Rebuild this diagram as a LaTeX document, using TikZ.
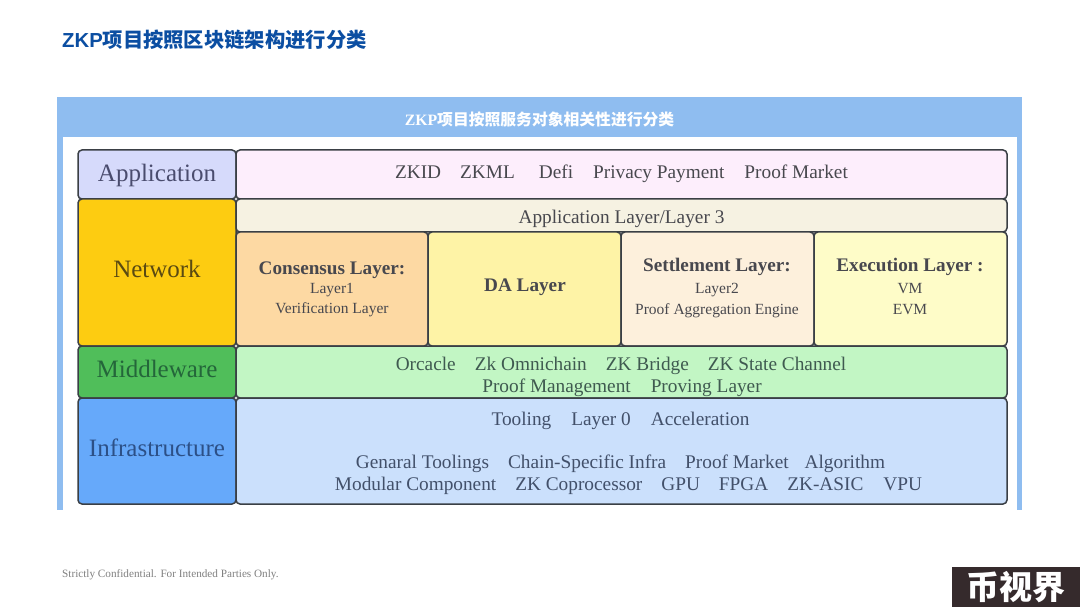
\documentclass[tikz,border=0pt]{standalone}
\usepackage{fontspec}
\setmainfont{Liberation Serif}
\newfontfamily\cjk{Noto Sans CJK SC}
\newfontfamily\arialfont{Liberation Sans}
\definecolor{framecol}{HTML}{8FBDF0}
\definecolor{titlecol}{HTML}{0B4EA2}
\definecolor{edgecol}{HTML}{3A3F45}
\definecolor{txtcol}{HTML}{48484E}
\definecolor{appcol}{HTML}{D6DAFB}
\definecolor{apprcol}{HTML}{FDEEFC}
\definecolor{netcol}{HTML}{FDCC11}
\definecolor{l3col}{HTML}{F6F2E2}
\definecolor{conscol}{HTML}{FDD9A3}
\definecolor{dacol}{HTML}{FEF3A6}
\definecolor{setlcol}{HTML}{FDF0DC}
\definecolor{execol}{HTML}{FEFCC8}
\definecolor{midcol}{HTML}{50BE5A}
\definecolor{midrcol}{HTML}{C2F6C4}
\definecolor{infcol}{HTML}{66A9FA}
\definecolor{infrcol}{HTML}{CBE0FC}
\definecolor{badgecol}{HTML}{352A2C}
\definecolor{apptxt}{HTML}{4A4C6E}
\definecolor{nettxt}{HTML}{5A4A12}
\definecolor{midtxt}{HTML}{24663A}
\definecolor{inftxt}{HTML}{2C5087}
\definecolor{midrtxt}{HTML}{3F5A50}
\definecolor{infrtxt}{HTML}{42506A}
\tikzset{
  cell/.style={draw=edgecol,line width=1.5pt,rounded corners=4pt,inner sep=0pt,outer sep=0pt,anchor=north west},
  sidelabel/.style={font=\fontsize{25}{28}\selectfont,text=txtcol,inner sep=0pt,anchor=base},
  rowlabel/.style={font=\fontsize{19.3}{22}\selectfont,text=txtcol,inner sep=0pt,anchor=base},
  headlabel/.style={font=\fontsize{19.2}{22}\selectfont\bfseries,text=txtcol,inner sep=0pt,anchor=base},
  sublabel/.style={font=\fontsize{15.5}{18}\selectfont,text=txtcol,inner sep=0pt,anchor=base}
}
\begin{document}
\begin{tikzpicture}[x=1pt,y=-1pt]
  \useasboundingbox (0,0) rectangle (1080,607);
  \fill[white] (0,0) rectangle (1080,607);
  % page title
  \node[inner sep=0pt,anchor=base west,text=titlecol,font=\fontsize{20.3}{24}\selectfont\bfseries] (title) at (62,48) {\arialfont ZKP\cjk 项目按照区块链架构进行分类};
  % blue frame
  \fill[framecol] (57,97) rectangle (1022,510);
  \fill[white] (63,137) rectangle (1017,510);
  \node[inner sep=0pt,anchor=base,text=white,font=\fontsize{15.8}{18}\selectfont\bfseries] (header) at (539.5,125.5) {ZKP\cjk 项目按照服务对象相关性进行分类};
  % left column
  \node[cell,fill=appcol,minimum width=158,minimum height=49] (app) at (78,150) {};
  \node[cell,fill=netcol,minimum width=158,minimum height=147] (net) at (78,199) {};
  \node[cell,fill=midcol,minimum width=158,minimum height=52] (mid) at (78,346) {};
  \node[cell,fill=infcol,minimum width=158,minimum height=106] (inf) at (78,398) {};
  % right column
  \node[cell,fill=apprcol,minimum width=771,minimum height=49] (appr) at (236,150) {};
  \node[cell,fill=l3col,minimum width=771,minimum height=33] (lthree) at (236,199) {};
  \node[cell,fill=conscol,minimum width=192,minimum height=114] (cons) at (236,232) {};
  \node[cell,fill=dacol,minimum width=193,minimum height=114] (da) at (428,232) {};
  \node[cell,fill=setlcol,minimum width=193,minimum height=114] (setl) at (621,232) {};
  \node[cell,fill=execol,minimum width=193,minimum height=114] (exe) at (814,232) {};
  \node[cell,fill=midrcol,minimum width=771,minimum height=52] (midr) at (236,346) {};
  \node[cell,fill=infrcol,minimum width=771,minimum height=106] (infr) at (236,398) {};
  % labels
  \node[sidelabel,text=apptxt] (applab) at (157,182) {Application};
  \node[sidelabel,text=nettxt] (netlab) at (157,277) {Network};
  \node[sidelabel,text=midtxt] (midlab) at (157,377) {Middleware};
  \node[sidelabel,text=inftxt] (inflab) at (157,456) {Infrastructure};
  \node[rowlabel] (apprlab) at (621.5,179) {ZKID\hspace{19pt}ZKML\hspace{24pt}Defi\hspace{20pt}Privacy Payment\hspace{20pt}Proof Market};
  \node[rowlabel] (lthreelab) at (621.5,224) {Application Layer/Layer 3};
  \node[headlabel] (conshead) at (332,274) {Consensus Layer:};
  \node[sublabel] (consone) at (332,293) {Layer1};
  \node[sublabel] (constwo) at (332,313) {Verification Layer};
  \node[headlabel] (dahead) at (525,291) {DA Layer};
  \node[headlabel] (setlhead) at (717,271) {Settlement Layer:};
  \node[sublabel] (setlone) at (717,293) {Layer2};
  \node[sublabel] (setltwo) at (717,314.5) {Proof Aggregation Engine};
  \node[headlabel] (exehead) at (910,271) {Execution Layer :};
  \node[sublabel] (exeone) at (910,293) {VM};
  \node[sublabel] (exetwo) at (910,314.5) {EVM};
  \node[rowlabel,text=midrtxt] (midrone) at (621,370.5) {Orcacle\hspace{19pt}Zk Omnichain\hspace{19pt}ZK Bridge\hspace{19pt}ZK State Channel};
  \node[rowlabel,text=midrtxt] (midrtwo) at (622,392) {Proof Management\hspace{20pt}Proving Layer};
  \node[rowlabel,text=infrtxt] (infrone) at (620.5,425) {Tooling\hspace{20pt}Layer 0\hspace{20pt}Acceleration};
  \node[rowlabel,text=infrtxt] (infrtwo) at (620.5,468.5) {Genaral Toolings\hspace{19pt}Chain-Specific Infra\hspace{19pt}Proof Market\hspace{16pt}Algorithm};
  \node[rowlabel,text=infrtxt] (infrthree) at (628.5,490) {Modular Component\hspace{19pt}ZK Coprocessor\hspace{19pt}GPU\hspace{19pt}FPGA\hspace{19pt}ZK-ASIC\hspace{20pt}VPU};
  % footer
  \node[inner sep=0pt,anchor=base west,text=black!50,font=\fontsize{11.2}{13}\selectfont] (footer) at (62,577) {Strictly Confidential. For Intended Parties Only.};
  \node[fill=badgecol,text=white,inner sep=0pt,minimum width=128,minimum height=40,anchor=north west,font=\fontsize{33}{34}\selectfont\bfseries] (badge) at (952,567) {\cjk 币视界};
\end{tikzpicture}
\end{document}
